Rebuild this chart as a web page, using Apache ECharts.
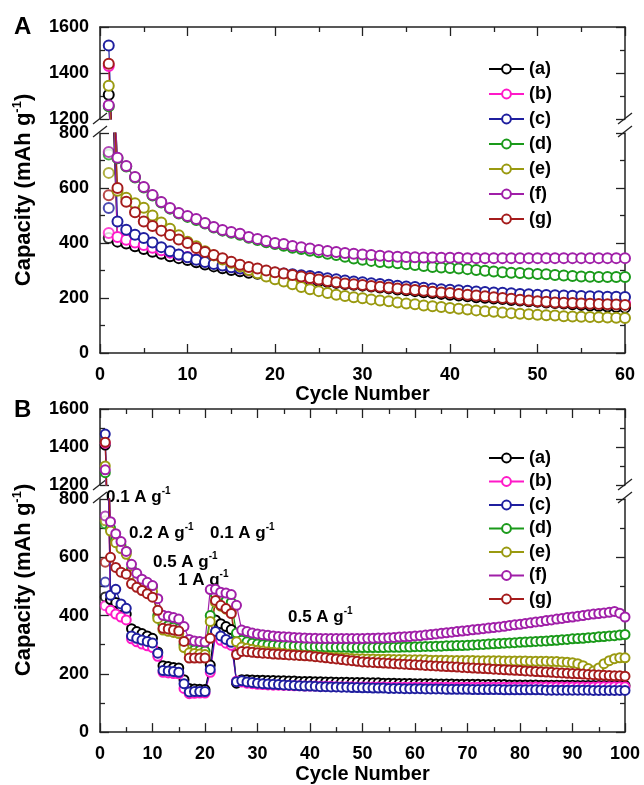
<!DOCTYPE html>
<html>
<head>
<meta charset="utf-8">
<title>Capacity vs cycle number</title>
<script src="https://cdn.jsdelivr.net/npm/echarts@6/dist/echarts.min.js"></script>
<style>
html, body { margin: 0; padding: 0; background: #fff; }
#main { width: 644px; height: 785px; }
</style>
</head>
<body>
<div id="main"></div>
<script>
// sample names and colours
var names = ['(a)', '(b)', '(c)', '(d)', '(e)', '(f)', '(g)'];
var colors = ['#000000', '#ff19c8', '#1f1f9f', '#1a9a1a', '#9a9a10', '#a01fa8', '#a51c1c'];

// panel A: capacity per cycle (cycle 1 = first discharge, on the upper scale)
var capA_a = [1305, 405, 398, 388, 378, 368, 361, 352, 345, 338,
  330, 322, 315, 308, 302, 297, 292, 288, 284, 280,
  276, 273, 269, 265, 262, 258, 255, 251, 248, 245,
  242, 238, 235, 231, 228, 225, 221, 218, 215, 212,
  209, 206, 203, 201, 198, 196, 193, 191, 188, 186,
  184, 182, 180, 177, 175, 173, 171, 169, 167, 165];
var capA_b = [1430, 422, 412, 402, 393, 383, 374, 365, 357, 349,
  341, 333, 326, 319, 313, 307, 301, 296, 291, 287,
  283, 279, 275, 271, 267, 264, 260, 257, 254, 251,
  248, 245, 242, 239, 236, 233, 230, 228, 225, 223,
  220, 218, 216, 213, 211, 209, 207, 205, 203, 201,
  199, 197, 195, 193, 191, 189, 187, 185, 183, 181];
var capA_c = [1520, 478, 448, 430, 418, 402, 385, 370, 358, 348,
  339, 331, 324, 318, 312, 307, 303, 299, 295, 292,
  289, 286, 283, 280, 276, 272, 268, 264, 260, 257,
  254, 251, 248, 245, 242, 240, 237, 235, 232, 230,
  228, 226, 224, 222, 220, 219, 217, 215, 214, 212,
  211, 210, 209, 208, 207, 206, 206, 205, 205, 204];
var capA_d = [1255, 708, 678, 638, 602, 573, 547, 525, 507, 495,
  484, 471, 456, 445, 437, 430, 419, 411, 403, 396,
  390, 383, 378, 372, 366, 361, 356, 350, 344, 339,
  335, 331, 329, 326, 323, 320, 316, 313, 311, 309,
  307, 305, 302, 299, 296, 294, 292, 291, 289, 287,
  286, 284, 282, 280, 278, 277, 276, 276, 276, 276];
var capA_e = [1345, 590, 565, 545, 528, 500, 475, 452, 428, 405,
  388, 370, 355, 340, 328, 315, 302, 290, 278, 268,
  260, 250, 240, 232, 225, 218, 212, 207, 203, 199,
  195, 191, 188, 184, 180, 177, 173, 170, 167, 164,
  161, 158, 155, 152, 150, 147, 145, 143, 141, 139,
  137, 136, 134, 133, 132, 131, 130, 129, 128, 127];
var capA_f = [1260, 710, 680, 640, 604, 575, 549, 527, 509, 498,
  487, 473, 458, 447, 440, 434, 422, 415, 407, 400,
  396, 389, 385, 380, 375, 371, 367, 364, 361, 358,
  356, 354, 352, 350, 349, 348, 347, 347, 346, 346,
  346, 345, 345, 345, 345, 345, 345, 345, 345, 345,
  345, 345, 345, 345, 345, 345, 345, 345, 345, 345];
var capA_g = [1440, 600, 550, 512, 478, 462, 445, 429, 413, 400,
  382, 367, 356, 345, 332, 321, 313, 307, 300, 294,
  289, 284, 278, 273, 267, 262, 257, 253, 250, 247,
  244, 241, 238, 235, 232, 229, 226, 223, 220, 218,
  215, 212, 209, 206, 203, 200, 197, 194, 191, 188,
  186, 184, 183, 182, 180, 179, 178, 177, 176, 175];
// second point plotted at cycle 1 (lower scale)
var firstLowA = [418, 436, 527, 722, 655, 731, 574];

// panel B: rate test
var capB_a = [1410, 455, 445, 430, 405, 355, 345, 338, 330, 322,
  275, 228, 225, 222, 220, 180, 150, 148, 147, 146,
  230, 385, 372, 362, 352, 168, 180, 180, 179, 178,
  178, 177, 177, 176, 176, 175, 175, 174, 174, 174,
  173, 173, 172, 172, 171, 171, 171, 170, 170, 170,
  169, 169, 169, 168, 168, 168, 167, 167, 167, 166,
  166, 166, 166, 165, 165, 165, 165, 164, 164, 164,
  164, 164, 163, 163, 163, 163, 163, 162, 162, 162,
  162, 162, 162, 161, 161, 161, 161, 161, 161, 161,
  160, 160, 160, 160, 160, 160, 160, 160, 160, 160];
var capB_b = [1420, 418, 405, 395, 385, 320, 310, 302, 296, 290,
  260, 205, 203, 201, 200, 150, 132, 133, 134, 134,
  205, 330, 315, 305, 298, 175, 172, 168, 166, 164,
  163, 162, 161, 161, 160, 160, 159, 159, 158, 158,
  158, 157, 157, 157, 156, 156, 156, 156, 155, 155,
  155, 155, 155, 155, 154, 154, 154, 154, 154, 154,
  154, 154, 154, 154, 154, 154, 154, 154, 154, 154,
  154, 154, 154, 154, 154, 154, 154, 154, 154, 154,
  154, 154, 155, 155, 155, 155, 155, 155, 155, 155,
  155, 155, 155, 155, 156, 156, 156, 156, 156, 156];
var capB_c = [1468, 470, 490, 440, 425, 330, 322, 316, 311, 306,
  271, 211, 210, 208, 205, 166, 138, 139, 139, 139,
  215, 345, 330, 318, 308, 173, 176, 172, 170, 168,
  166, 165, 164, 163, 162, 161, 160, 159, 158, 158,
  157, 156, 156, 155, 155, 154, 154, 153, 153, 152,
  152, 151, 151, 151, 150, 150, 150, 149, 149, 149,
  149, 148, 148, 148, 148, 147, 147, 147, 147, 147,
  146, 146, 146, 146, 146, 146, 145, 145, 145, 145,
  145, 145, 145, 145, 144, 144, 144, 144, 144, 144,
  144, 144, 144, 143, 143, 143, 143, 143, 143, 143];
var capB_d = [1265, 700, 660, 640, 620, 560, 535, 520, 510, 500,
  400, 370, 365, 360, 355, 300, 285, 282, 280, 278,
  400, 470, 460, 450, 445, 340, 315, 310, 305, 302,
  300, 299, 298, 297, 296, 296, 295, 295, 294, 294,
  293, 293, 292, 292, 291, 291, 291, 290, 290, 290,
  290, 290, 290, 290, 291, 291, 291, 292, 292, 293,
  293, 294, 294, 295, 295, 296, 296, 297, 297, 298,
  299, 300, 301, 302, 303, 304, 305, 306, 307, 308,
  309, 310, 311, 312, 313, 314, 315, 317, 318, 320,
  321, 322, 324, 325, 327, 328, 330, 331, 333, 335];
var capB_e = [1300, 690, 650, 630, 610, 540, 520, 505, 495, 482,
  390, 350, 346, 342, 338, 290, 272, 270, 268, 266,
  380, 445, 432, 422, 412, 310, 292, 288, 284, 281,
  278, 276, 274, 272, 270, 268, 266, 264, 263, 262,
  260, 259, 258, 257, 256, 255, 254, 253, 252, 252,
  251, 251, 250, 250, 250, 249, 249, 249, 248, 248,
  248, 248, 247, 247, 247, 247, 246, 246, 246, 246,
  246, 245, 245, 245, 245, 245, 244, 244, 244, 244,
  244, 243, 243, 243, 243, 242, 242, 241, 240, 238,
  235, 228, 218, 210, 220, 235, 245, 252, 255, 255];
var capB_f = [1280, 722, 681, 654, 620, 576, 545, 525, 514, 503,
  458, 401, 398, 393, 388, 362, 318, 313, 311, 309,
  489, 490, 480, 477, 472, 435, 350, 345, 340, 337,
  334, 332, 330, 328, 327, 326, 325, 324, 323, 322,
  322, 321, 321, 321, 321, 321, 321, 321, 321, 321,
  322, 322, 323, 323, 324, 325, 326, 327, 328, 330,
  331, 333, 335, 337, 339, 341, 343, 345, 347, 349,
  351, 353, 355, 357, 359, 361, 363, 366, 368, 370,
  373, 375, 378, 380, 383, 385, 388, 390, 393, 395,
  398, 400, 403, 405, 407, 409, 411, 414, 408, 395];
var capB_g = [1425, 600, 565, 549, 542, 509, 497, 486, 475, 463,
  418, 356, 354, 350, 347, 311, 254, 254, 254, 254,
  322, 452, 435, 424, 407, 266, 277, 276, 274, 272,
  271, 270, 268, 267, 266, 265, 264, 263, 262, 261,
  259, 257, 255, 253, 251, 249, 247, 245, 243, 241,
  240, 239, 238, 237, 236, 235, 234, 233, 232, 231,
  230, 229, 228, 227, 226, 225, 224, 223, 222, 221,
  220, 219, 218, 217, 216, 215, 214, 213, 212, 211,
  210, 209, 208, 207, 206, 205, 204, 203, 202, 201,
  200, 199, 198, 197, 196, 195, 194, 193, 193, 192];
var firstLowB = [464, 434, 515, 715, 725, 742, 583];

// current-density labels of panel B
var rateLabels = ['0.1', '0.2', '0.1', '0.5', '1', '0.5'];

var FONT = '"Liberation Sans", Arial, Helvetica, sans-serif';
var INK = '#222';

var myChart = echarts.init(document.getElementById('main'));

function plain(v) { return String(v); }

function xAx(grid, max, top) {
    return {
        type: 'value', gridIndex: grid, min: 0, max: max, interval: 10,
        position: top ? 'top' : 'bottom',
        name: top ? '' : 'Cycle Number',
        nameLocation: 'middle', nameGap: 29,
        nameTextStyle: { color: '#000', fontSize: 20, fontWeight: 'bold', fontFamily: FONT },
        axisLine: { show: true, onZero: false, lineStyle: { color: INK, width: 1.5 } },
        axisTick: { show: true, inside: true, length: 9, lineStyle: { color: INK, width: 1.3 } },
        minorTick: { show: true, splitNumber: 2, length: 5, lineStyle: { color: INK, width: 1.3 } },
        axisLabel: { show: !top, margin: 13, formatter: plain, color: '#000', fontSize: 18, fontWeight: 'bold', fontFamily: FONT },
        splitLine: { show: false }
    };
}

function yAx(grid, min, max, right) {
    return {
        type: 'value', gridIndex: grid, min: min, max: max, interval: 200,
        position: right ? 'right' : 'left',
        axisLine: { show: true, onZero: false, lineStyle: { color: INK, width: 1.5 } },
        axisTick: { show: true, inside: true, length: 9, lineStyle: { color: INK, width: 1.3 } },
        minorTick: { show: true, splitNumber: 2, length: 5, lineStyle: { color: INK, width: 1.3 } },
        axisLabel: { show: !right, margin: 11, formatter: plain, color: '#000', fontSize: 18, fontWeight: 'bold', fontFamily: FONT },
        splitLine: { show: false }
    };
}

var series = [];
function addPanel(caps, lows, gUp, gLow, size) {
    caps.forEach(function (vals, k) {
        var pts = vals.map(function (v, i) { return [i + 1, v]; });
        [gUp, gLow].forEach(function (g) {
            series.push({
                name: names[k], type: 'line', xAxisIndex: g, yAxisIndex: g,
                data: pts, clip: true, symbol: 'emptyCircle', symbolSize: size,
                color: colors[k],
                lineStyle: { color: colors[k], width: 1.2 },
                itemStyle: { color: colors[k], borderWidth: 1.6 }
            });
        });
    });
    lows.forEach(function (v, k) {
        series.push({
            name: names[k], type: 'scatter', xAxisIndex: gLow, yAxisIndex: gLow,
            data: [[1, v]], symbol: 'emptyCircle', symbolSize: size,
            itemStyle: { color: colors[k], borderColor: colors[k], borderWidth: 1.6 }
        });
    });
}
addPanel([capA_a, capA_b, capA_c, capA_d, capA_e, capA_f, capA_g], firstLowA, 0, 1, 10);
addPanel([capB_a, capB_b, capB_c, capB_d, capB_e, capB_f, capB_g], firstLowB, 2, 3, 9);

function legendAt(top, gap) {
    return {
        data: names, orient: 'vertical', left: 483, top: top, itemWidth: 35, itemHeight: 11,
        itemGap: gap, selectedMode: false,
        textStyle: { color: '#000', fontSize: 18, lineHeight: 20, fontWeight: 'bold', fontFamily: FONT }
    };
}

function slash(x, y) {
    return { type: 'line', shape: { x1: x - 7, y1: y + 5, x2: x + 7, y2: y - 6 },
        style: { stroke: INK, lineWidth: 1.3 } };
}

function rich(t, x, y, size, rot) {
    return {
        type: 'text', x: x, y: y, rotation: rot || 0,
        style: {
            text: t, textAlign: rot ? 'center' : 'left', textVerticalAlign: 'middle',
            rich: {
                m: { fontSize: size, fontWeight: 'bold', fontFamily: FONT, fill: '#000', lineHeight: size + 4 },
                s: { fontSize: Math.round(size * 0.6), fontWeight: 'bold', fontFamily: FONT, fill: '#000', verticalAlign: 'top', lineHeight: size + 4 }
            }
        }
    };
}
function rateText(i, x, y) {
    return rich('{m|' + rateLabels[i] + ' A g}{s|-1}', x, y, 17);
}

var graphics = [
    { type: 'text', x: 14, y: 27, style: { text: 'A', fontSize: 24, fontWeight: 'bold', fontFamily: FONT, fill: '#000', textVerticalAlign: 'middle' } },
    { type: 'text', x: 14, y: 410, style: { text: 'B', fontSize: 24, fontWeight: 'bold', fontFamily: FONT, fill: '#000', textVerticalAlign: 'middle' } },
    rich('{m|Capacity (mAh g}{s|-1}{m|)}', 24, 190, 22, Math.PI / 2),
    rich('{m|Capacity (mAh g}{s|-1}{m|)}', 24, 580, 22, Math.PI / 2),
    // axis breaks
    slash(100, 119), slash(100, 132), slash(625, 119), slash(625, 132),
    slash(100, 485), slash(100, 498), slash(625, 485), slash(625, 498),
    rateText(0, 106, 497),
    rateText(1, 129, 533),
    rateText(2, 210, 533),
    rateText(3, 153, 562),
    rateText(4, 178, 580),
    rateText(5, 288, 617)
];

var option = {
    animation: false,
    backgroundColor: '#fff',
    grid: [
        { left: 100, top: 27, width: 525, height: 92 },
        { left: 100, top: 133, width: 525, height: 220 },
        { left: 100, top: 409, width: 525, height: 76 },
        { left: 100, top: 499, width: 525, height: 236 }
    ],
    xAxis: [xAx(0, 60, true), xAx(1, 60, false), xAx(2, 100, true), xAx(3, 100, false)],
    yAxis: [
        yAx(0, 1200, 1600, false), yAx(1, 0, 800, false), yAx(2, 1200, 1600, false), yAx(3, 0, 800, false),
        yAx(0, 1200, 1600, true), yAx(1, 0, 800, true), yAx(2, 1200, 1600, true), yAx(3, 0, 800, true)
    ],
    legend: [legendAt(54, 5), legendAt(443, 3.5)],
    graphic: graphics,
    series: series
};

myChart.setOption(option);
</script>
</body>
</html>
